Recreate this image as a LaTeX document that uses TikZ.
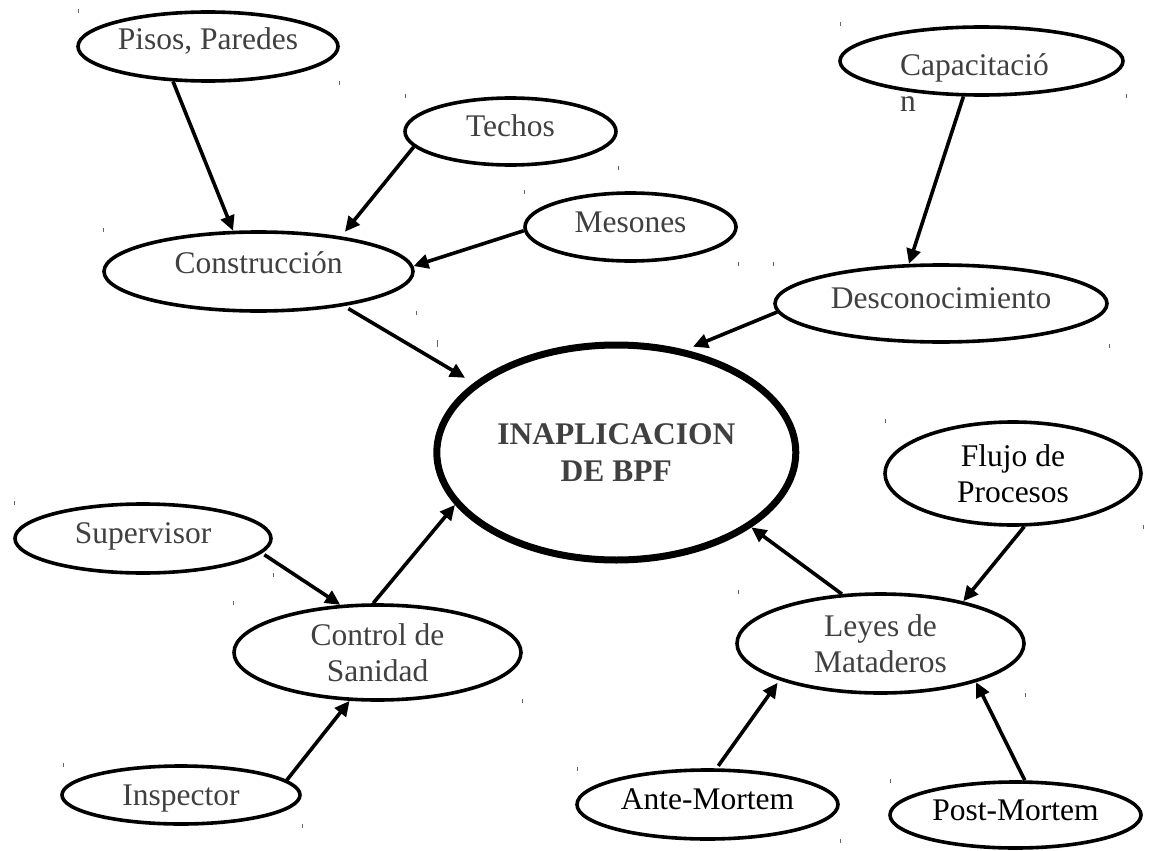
\documentclass[tikz,border=0pt]{standalone}
\usepackage{fontspec}
\setmainfont{Liberation Serif}
\usetikzlibrary{shapes.geometric,arrows.meta}
\definecolor{inkgray}{HTML}{404040}
\begin{document}
\begin{tikzpicture}[x=1pt,y=-1pt,
  bubble/.style={ellipse, draw=black, line width=3.6pt, inner sep=0pt,
    font=\fontsize{31.5}{36}\selectfont, text=inkgray},
  oneline/.style={text height=21pt, text depth=11pt},
  twolines/.style={align=center},
  link/.style={line width=3.6pt, -{Triangle[length=15pt,width=14pt]}},
  corner/.style={black!60, line width=0.9pt}]
\fill[white] (0,0) rectangle (1149,851);
\useasboundingbox (0,0) rectangle (1149,851);

% central problem
\node[bubble, line width=7pt, minimum width=359pt, minimum height=215pt,
  twolines, font=\fontsize{31.5}{37}\selectfont\bfseries] (inapl) at (616.3,452.5)
  {INAPLICACION\\DE BPF};

% construction branch
\node[bubble, oneline, text depth=15pt, minimum width=260pt, minimum height=69pt] (pisos) at (208,46.5) {Pisos, Paredes};
\node[bubble, oneline, text depth=17pt, minimum width=309pt, minimum height=79pt] (constr) at (258.5,271.5) {Construcción};
\node[bubble, oneline, minimum width=211pt, minimum height=67pt] (techos) at (510.5,131.5) {Techos};
\node[bubble, oneline, minimum width=211pt, minimum height=68pt] (mesones) at (630.5,227) {Mesones};

% training branch
\node[bubble, minimum width=283pt, minimum height=68pt] (cap) at (981.5,61) {};
\node[anchor=base west, inner sep=0pt, font=\fontsize{31.5}{36}\selectfont, text=inkgray] (capA) at (900,75) {Capacitació};
\node[anchor=base west, inner sep=0pt, font=\fontsize{31.5}{36}\selectfont, text=inkgray] (capB) at (900,111.7) {n};
\node[bubble, oneline, minimum width=332pt, minimum height=77pt] (descon) at (941,303.5) {Desconocimiento};

% sanitary control branch
\node[bubble, oneline, minimum width=256pt, minimum height=69pt] (superv) at (143,538.5) {Supervisor};
\node[bubble, twolines, minimum width=287pt, minimum height=95pt] (control) at (377.5,652.5) {Control de\\Sanidad};
\node[bubble, oneline, text depth=1pt, minimum width=238pt, minimum height=58pt] (inspec) at (181,795) {Inspector};

% slaughterhouse law branch
\node[bubble, twolines, text=black, minimum width=256pt, minimum height=103pt] (flujo) at (1013,473.5) {Flujo de\\Procesos};
\node[bubble, twolines, minimum width=287pt, minimum height=99pt] (leyes) at (880.5,643.5) {Leyes de\\Mataderos};
\node[bubble, oneline, text=black, minimum width=261pt, minimum height=69pt] (ante) at (707.5,804.5) {Ante-Mortem};
\node[bubble, oneline, text=black, minimum width=251pt, minimum height=66pt] (post) at (1015.5,815) {Post-Mortem};

% connectors
\draw[link] (pisos.-135) -- (constr.122);
\draw[link, shorten >=6pt] (techos.-171) -- (constr.23);
\draw[link] (mesones.182) -- (constr.2);
\draw[link, shorten <=5pt, shorten >=10pt] (constr.-22) -- (inapl.154);
\draw[link] (cap.-117) -- (descon.129);
\draw[link, shorten >=8pt] (descon.-177) -- (inapl.56);
\draw[link, shorten <=3pt] (superv.-7) -- (control.128);
\draw[link] (control.95) -- (inapl.-162);
\draw[link] (inspec.8) -- (control.-120);
\draw[link] (leyes.128) -- (inapl.-29);
\draw[link] (flujo.-78) -- (leyes.27);
\draw[link, shorten <=3pt, shorten >=3pt] (ante.76) -- (leyes.-160);
\draw[link] (post.75) -- (leyes.-22);

% small corner marks left by the frames
\foreach \mx/\my in {78/9, 339/81, 103/228, 405/94, 618/166, 524/190, 738/262,
  773/262, 840/22, 1126/94, 14/501, 273/573, 416/311, 1109/344, 885/419,
  1143/525, 233/601, 63/763, 302/824, 738/590, 522/699, 577/767, 1025/693,
  890/779, 840/839}
  \draw[corner] (\mx,\my) -- ++(0,4);
\draw[corner] (437,340) -- ++(0,7);
\end{tikzpicture}
\end{document}
